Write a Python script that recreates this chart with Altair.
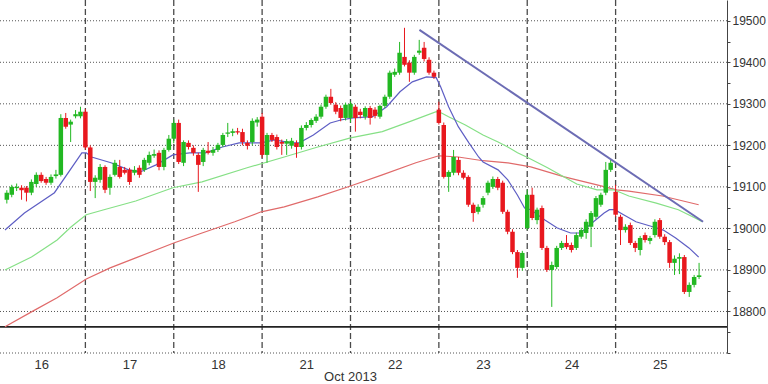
import altair as alt
import pandas as pd

# ---------------- data ----------------
day_labels = ["16", "17", "18", "21", "22", "23", "24", "25"]
slots_per_day = 18
first_slot = [2, 0, 0, 0, 0, 0, 0, 0]

# (open, high, low, close) per candle, per day
d16 = [(19069, 19092, 19060, 19086), (19081, 19105, 19075, 19100), (19097, 19108, 19090, 19100),
       (19098, 19104, 19069, 19092), (19098, 19102, 19065, 19086), (19086, 19118, 19080, 19112),
       (19107, 19135, 19100, 19129), (19129, 19135, 19110, 19114), (19119, 19124, 19105, 19110),
       (19110, 19130, 19105, 19124), (19126, 19141, 19120, 19130), (19129, 19275, 19125, 19266),
       (19266, 19278, 19240, 19245), (19250, 19262, 19208, 19257), (19270, 19285, 19265, 19275),
       (19270, 19293, 19265, 19281)]
d17 = [(19281, 19288, 19190, 19195), (19195, 19200, 19090, 19112), (19112, 19128, 19073, 19122),
       (19117, 19155, 19110, 19148), (19148, 19152, 19085, 19093), (19098, 19130, 19081, 19124),
       (19129, 19165, 19125, 19158), (19148, 19165, 19120, 19124), (19141, 19148, 19130, 19134),
       (19141, 19146, 19105, 19112), (19134, 19150, 19128, 19141), (19146, 19152, 19122, 19129),
       (19141, 19170, 19136, 19165), (19158, 19185, 19152, 19177), (19175, 19190, 19170, 19179),
       (19182, 19188, 19140, 19148), (19148, 19194, 19140, 19189), (19189, 19225, 19185, 19216)]
d18 = [(19216, 19262, 19205, 19254), (19254, 19262, 19155, 19160), (19158, 19212, 19150, 19208),
       (19206, 19212, 19190, 19196), (19194, 19200, 19175, 19182), (19177, 19182, 19088, 19153),
       (19160, 19194, 19150, 19189), (19187, 19208, 19178, 19182), (19182, 19196, 19175, 19189),
       (19189, 19206, 19184, 19201), (19201, 19230, 19196, 19225), (19228, 19254, 19220, 19231),
       (19230, 19240, 19222, 19234), (19234, 19242, 19226, 19231), (19232, 19240, 19200, 19208),
       (19206, 19212, 19190, 19199), (19208, 19265, 19200, 19259), (19255, 19268, 19245, 19262)]
d21 = [(19269, 19278, 19170, 19177), (19177, 19230, 19158, 19225), (19225, 19230, 19208, 19213),
       (19220, 19226, 19190, 19196), (19208, 19214, 19177, 19204), (19204, 19215, 19177, 19210),
       (19199, 19218, 19192, 19211), (19206, 19212, 19170, 19196), (19196, 19248, 19190, 19242),
       (19242, 19256, 19236, 19249), (19249, 19265, 19243, 19261), (19259, 19275, 19254, 19269),
       (19269, 19298, 19264, 19293), (19293, 19322, 19288, 19317), (19317, 19336, 19298, 19302),
       (19298, 19304, 19275, 19281), (19290, 19296, 19258, 19266), (19266, 19303, 19260, 19298)]
d22 = [(19266, 19305, 19255, 19300), (19293, 19298, 19233, 19266), (19281, 19288, 19265, 19273),
       (19269, 19294, 19262, 19290), (19290, 19295, 19250, 19266), (19286, 19292, 19265, 19271),
       (19269, 19298, 19264, 19295), (19295, 19322, 19290, 19317), (19317, 19380, 19312, 19375),
       (19370, 19385, 19365, 19377), (19375, 19449, 19370, 19423), (19413, 19483, 19390, 19394),
       (19399, 19405, 19353, 19375), (19375, 19418, 19370, 19413), (19423, 19454, 19418, 19428),
       (19435, 19449, 19402, 19408), (19406, 19412, 19370, 19375), (19375, 19380, 19360, 19365)]
d23 = [(19286, 19305, 19250, 19254), (19249, 19255, 19120, 19124), (19124, 19140, 19088, 19136),
       (19134, 19189, 19128, 19172), (19165, 19172, 19128, 19134), (19134, 19140, 19118, 19122),
       (19124, 19128, 19052, 19057), (19057, 19062, 19016, 19037), (19040, 19058, 19034, 19052),
       (19057, 19078, 19050, 19073), (19086, 19115, 19080, 19110), (19100, 19125, 19095, 19119),
       (19119, 19124, 19092, 19098), (19110, 19115, 19035, 19040), (19040, 19045, 18986, 18992),
       (18992, 18998, 18938, 18943), (18943, 18948, 18881, 18905), (18905, 18946, 18898, 18941)]
d24 = [(19001, 19093, 18996, 19081), (19081, 19098, 19020, 19025), (19020, 19050, 19010, 19045),
       (19049, 19055, 18948, 18953), (18953, 18958, 18895, 18900), (18900, 18920, 18811, 18912),
       (18907, 18958, 18902, 18953), (18953, 18970, 18948, 18965), (18965, 18984, 18950, 18955),
       (18960, 18966, 18942, 18948), (18953, 18990, 18948, 18984), (18980, 19002, 18975, 18996),
       (18989, 19022, 18975, 19016), (19004, 19042, 18955, 19037), (19028, 19078, 19022, 19073),
       (19057, 19086, 19052, 19081), (19086, 19160, 19080, 19141), (19141, 19165, 19136, 19158)]
d25 = [(19088, 19105, 19028, 19033), (19028, 19033, 18960, 18996), (18996, 19010, 18990, 19004),
       (19008, 19014, 18960, 18965), (18965, 18970, 18943, 18953), (18948, 18982, 18935, 18977),
       (18984, 18990, 18966, 18972), (18970, 18982, 18962, 18977), (18984, 19022, 18978, 19016),
       (19020, 19025, 18975, 18980), (18980, 18986, 18960, 18967), (18967, 18972, 18905, 18917),
       (18917, 18935, 18888, 18927), (18927, 18940, 18890, 18931), (18931, 18936, 18842, 18847),
       (18847, 18870, 18835, 18864), (18864, 18888, 18858, 18883), (18883, 18917, 18878, 18887)]
days_ohlc = [d16, d17, d18, d21, d22, d23, d24, d25]

# moving averages (t in day units, value)
blue_t = [0.09, 0.31, 0.65, 0.96, 1.01, 1.07, 1.29, 1.49, 1.62, 1.80, 1.99, 2.18, 2.36, 2.55, 2.74,
          2.99, 3.14, 3.33, 3.42, 3.58, 3.77, 3.89, 4.03, 4.25, 4.41, 4.56, 4.70, 4.86, 4.97, 5.02,
          5.11, 5.22, 5.34, 5.45, 5.50, 5.67, 5.78, 5.89, 5.97, 6.04, 6.20, 6.34, 6.49, 6.60, 6.75,
          6.87, 6.93, 6.99, 7.09, 7.23, 7.42, 7.54, 7.68, 7.83, 7.94]
blue_v = [18996, 19037, 19086, 19182, 19182, 19172, 19158, 19141, 19136, 19153, 19177, 19182, 19182, 19196, 19206,
          19206, 19213, 19206, 19206, 19225, 19254, 19261, 19266, 19269, 19293, 19329, 19353, 19365, 19363, 19341,
          19293, 19245, 19206, 19172, 19160, 19141, 19117, 19080, 19049, 19045, 19020, 19001, 18989, 18989, 19016,
          19037, 19045, 19045, 19033, 19016, 19004, 18996, 18977, 18953, 18931]
green_t = [0.09, 0.39, 0.68, 0.84, 1.01, 1.21, 1.57, 1.99, 2.32, 2.83, 3.25, 3.63, 4.00, 4.36, 4.67,
           4.97, 5.03, 5.11, 5.30, 5.50, 5.67, 5.78, 5.89, 6.01, 6.23, 6.56, 6.79, 6.98, 7.15, 7.46,
           7.71, 7.90, 7.98]
green_v = [18900, 18931, 18972, 19004, 19033, 19045, 19066, 19098, 19112, 19146, 19172, 19196, 19218, 19233, 19257,
           19281, 19278, 19269, 19249, 19225, 19208, 19196, 19182, 19170, 19146, 19107, 19093, 19093, 19078, 19061,
           19045, 19025, 19016]
red_t = [0.09, 0.39, 0.68, 1.01, 1.28, 1.57, 2.00, 2.32, 2.69, 2.99, 3.25, 3.63, 4.00, 4.36, 4.74,
         5.00, 5.22, 5.50, 5.78, 6.04, 6.42, 6.79, 7.01, 7.15, 7.53, 7.94]
red_v = [18763, 18799, 18833, 18878, 18905, 18929, 18965, 18989, 19016, 19040, 19052, 19076, 19102, 19129, 19158,
         19175, 19172, 19163, 19158, 19148, 19124, 19105, 19093, 19090, 19078, 19057]

trend_t = [4.78, 7.99]
trend_v = [19478, 19016]

support_level = [18763]
grid_levels = [18700, 18800, 18900, 19000, 19100, 19200, 19300, 19400, 19500]
axis_ticks = [18700, 18750, 18800, 18850, 18900, 18950, 19000, 19050, 19100, 19150,
              19200, 19250, 19300, 19350, 19400, 19450, 19500]
day_boundaries = [1, 2, 3, 4, 5, 6, 7]
month_label = ["Oct 2013"]
month_pos = [4.0]

# ---------------- build tables ----------------
rows = []
for di, (ohlc, fs) in enumerate(zip(days_ohlc, first_slot)):
    for k, (o, h, l, c) in enumerate(ohlc):
        rows.append({"t": di + (fs + k) / slots_per_day, "o": o, "h": h, "l": l, "c": c,
                     "dir": "up" if c >= o else "down"})
candles = pd.DataFrame(rows)

X_DOM = [0.0904, 8.204]
Y_DOM = [18700, 19550]
FONT = "Liberation Sans"
xs = alt.Scale(domain=X_DOM, nice=False, zero=False)
ys = alt.Scale(domain=Y_DOM, nice=False, zero=False)

XAXIS = alt.Axis(values=[i + 0.5 for i in range(len(day_labels))],
                 labelExpr="['" + "','".join(day_labels) + "'][floor(datum.value)]",
                 ticks=False, domain=False, grid=False, title=None,
                 labelFont=FONT, labelFontSize=13, labelColor="#333333",
                 labelPadding=5, labelOverlap=False)
YAXIS = alt.Axis(orient="right", values=axis_ticks,
                 labelExpr="datum.value % 100 == 0 && datum.value > 18700 ? format(datum.value, 'd') : ''",
                 grid=False, title=None, tickSize=3, tickColor="#444444",
                 domainColor="#444444", labelFont=FONT, labelFontSize=12,
                 labelColor="#333333", labelPadding=2, labelOverlap=False)


def X(f):
    return alt.X(f, scale=xs, axis=XAXIS)


def Y(f):
    return alt.Y(f, scale=ys, axis=YAXIS)


col = alt.Color("dir:N", scale=alt.Scale(domain=["up", "down"], range=["#22b822", "#e8181e"]), legend=None)

hgrid = alt.Chart(pd.DataFrame({"v": grid_levels})).mark_rule(
    color="#555555", strokeDash=[1, 2], strokeWidth=1
).encode(y=Y("v:Q"))

vgrid = alt.Chart(pd.DataFrame({"t": day_boundaries})).mark_rule(
    color="#4a4a4a", strokeDash=[6, 3], strokeWidth=1.3
).encode(x=X("t:Q"))

support = alt.Chart(pd.DataFrame({"v": support_level})).mark_rule(
    color="#222222", strokeWidth=1.6
).encode(y=Y("v:Q"))


def ma_line(ts, vs, color):
    return alt.Chart(pd.DataFrame({"t": ts, "v": vs})).mark_line(
        color=color, strokeWidth=1.2, clip=True
    ).encode(x=X("t:Q"), y=Y("v:Q"))


red_line = ma_line(red_t, red_v, "#e06a6a")
green_line = ma_line(green_t, green_v, "#86e086")
blue_line = ma_line(blue_t, blue_v, "#5e5ec4")

base = alt.Chart(candles)
wicks = base.mark_rule(strokeWidth=1, clip=True).encode(
    x=X("t:Q"), y=Y("l:Q"), y2="h:Q", color=col,
)
bodies = base.mark_bar(size=4.5, clip=True).encode(
    x=X("t:Q"), y=Y("o:Q"), y2="c:Q", color=col,
)

trend = alt.Chart(pd.DataFrame({"t": trend_t, "v": trend_v})).mark_line(
    color="#6c6cb4", strokeWidth=2
).encode(x=X("t:Q"), y=Y("v:Q"))

month = alt.Chart(pd.DataFrame({"t": month_pos, "lab": month_label})).mark_text(
    font=FONT, fontSize=13, color="#333333", align="center", baseline="middle"
).encode(x=X("t:Q"), y=alt.value(377), text="lab:N")

chart = alt.layer(
    hgrid, vgrid, support, red_line, green_line, blue_line, wicks, bodies, trend, month
).properties(
    width=727, height=353,
    padding={"left": 0, "top": 0, "right": 41, "bottom": 31},
    autosize=alt.AutoSizeParams(type="none"),
    background="white",
).configure_view(stroke=None)

chart.save("out.html", embed_options={"renderer": "svg", "actions": False})
